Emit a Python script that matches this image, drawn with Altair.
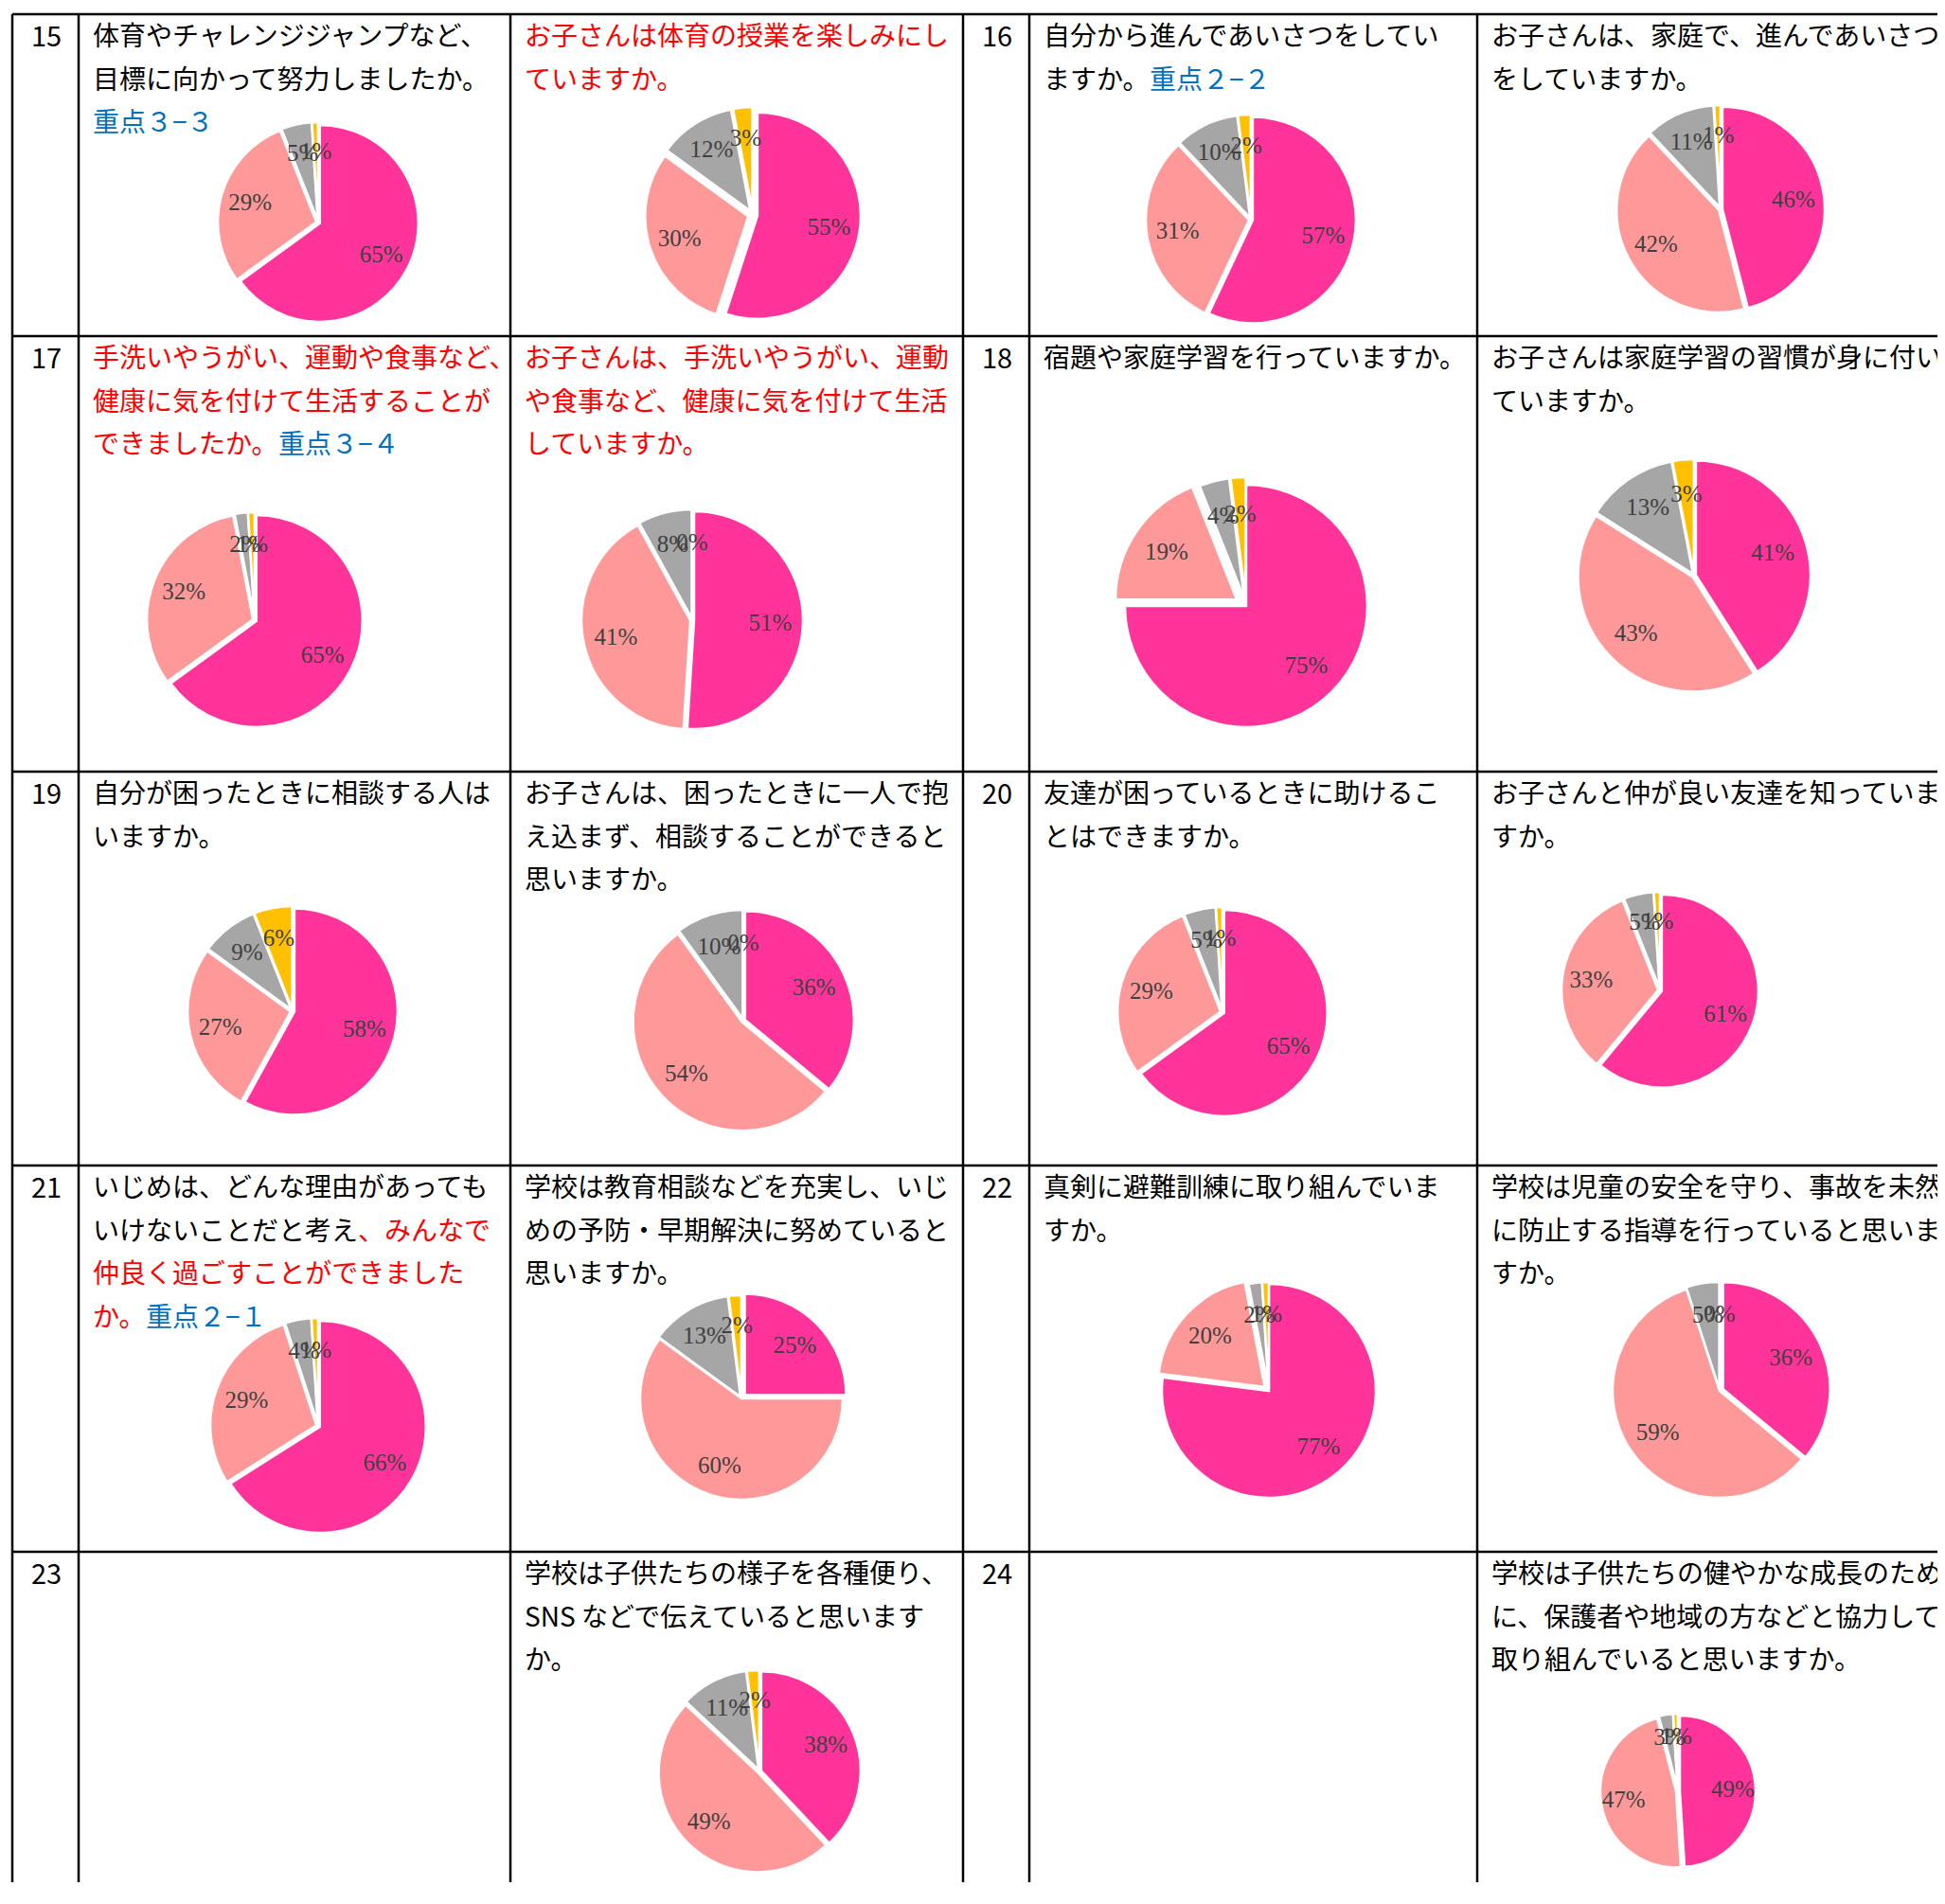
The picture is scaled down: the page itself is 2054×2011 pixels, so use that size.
import altair as alt
import pandas as pd

# ---------------- data ----------------
numbers = ["15", "16", "17", "18", "19", "20", "21", "22", "23", "24"]

pie_ids = ["15s", "15p", "16s", "16p", "17s", "17p", "18s", "18p", "19s", "19p",
           "20s", "20p", "21s", "21p", "22s", "22p", "23p", "24p"]
answer_cats = ["4", "3", "2", "1"]
pink   = [65, 55, 57, 46, 65, 51, 75, 41, 58, 36, 65, 61, 66, 25, 77, 36, 38, 49]
salmon = [29, 30, 31, 42, 32, 41, 19, 43, 27, 54, 29, 33, 29, 60, 20, 59, 49, 47]
grey   = [5, 12, 10, 11, 2, 8, 4, 13, 9, 10, 5, 5, 4, 13, 2, 5, 11, 3]
yellow = [1, 3, 2, 1, 1, 0, 2, 3, 6, 0, 1, 1, 1, 2, 1, 0, 2, 1]

# question texts: cell id -> lines -> segments (text, kind)
texts = {
    "15s": [[("体育やチャレンジジャンプなど、", "q")],
            [("目標に向かって努力しましたか。", "q")],
            [("重点３−３", "b")]],
    "15p": [[("お子さんは体育の授業を楽しみにし", "r")],
            [("ていますか。", "r")]],
    "16s": [[("自分から進んであいさつをしてい", "q")],
            [("ますか。", "q"), ("重点２−２", "b")]],
    "16p": [[("お子さんは、家庭で、進んであいさつ", "q")],
            [("をしていますか。", "q")]],
    "17s": [[("手洗いやうがい、運動や食事など、", "r")],
            [("健康に気を付けて生活することが", "r")],
            [("できましたか。", "r"), ("重点３−４", "b")]],
    "17p": [[("お子さんは、手洗いやうがい、運動", "r")],
            [("や食事など、健康に気を付けて生活", "r")],
            [("していますか。", "r")]],
    "18s": [[("宿題や家庭学習を行っていますか。", "q")]],
    "18p": [[("お子さんは家庭学習の習慣が身に付い", "q")],
            [("ていますか。", "q")]],
    "19s": [[("自分が困ったときに相談する人は", "q")],
            [("いますか。", "q")]],
    "19p": [[("お子さんは、困ったときに一人で抱", "q")],
            [("え込まず、相談することができると", "q")],
            [("思いますか。", "q")]],
    "20s": [[("友達が困っているときに助けるこ", "q")],
            [("とはできますか。", "q")]],
    "20p": [[("お子さんと仲が良い友達を知っていま", "q")],
            [("すか。", "q")]],
    "21s": [[("いじめは、どんな理由があっても", "q")],
            [("いけないことだと考え", "q"), ("、みんなで", "r")],
            [("仲良く過ごすことができました", "r")],
            [("か。", "r"), ("重点２−１", "b")]],
    "21p": [[("学校は教育相談などを充実し、いじ", "q")],
            [("めの予防・早期解決に努めていると", "q")],
            [("思いますか。", "q")]],
    "22s": [[("真剣に避難訓練に取り組んでいま", "q")],
            [("すか。", "q")]],
    "22p": [[("学校は児童の安全を守り、事故を未然", "q")],
            [("に防止する指導を行っていると思いま", "q")],
            [("すか。", "q")]],
    "23p": [[("学校は子供たちの様子を各種便り、", "q")],
            [("SNS などで伝えていると思います", "q")],
            [("か。", "q")]],
    "24p": [[("学校は子供たちの健やかな成長のため", "q")],
            [("に、保護者や地域の方などと協力して", "q")],
            [("取り組んでいると思いますか。", "q")]],
}

# ---------------- layout (reference pixel coordinates) ----------------
W, H = 2038, 1980
OX, OY = 8, 8
COLS = [13, 83, 539, 1017, 1087, 1560]
ROWS = [15, 355, 815, 1231, 1639]
FS = 28          # question font size (= char advance)
LINE = 45.5
PAD = 15
FIRST = 25

cell_of = {}
for i, n in enumerate(numbers):
    row = i // 2
    side = i % 2
    cs, cp = (1, 2) if side == 0 else (4, 5)
    cell_of[n + "s"] = (row, cs)
    cell_of[n + "p"] = (row, cp)

pie_layout = {  # cx, cy, r
    "15s": (336, 235, 104), "15p": (795, 227, 109), "16s": (1321, 232, 109),
    "16p": (1817, 221, 108), "17s": (269, 655, 112), "17p": (731, 655, 115),
    "18s": (1316, 640, 128), "18p": (1789, 608, 121), "19s": (309, 1068, 109),
    "19p": (785, 1078, 115), "20s": (1291, 1069, 109), "20p": (1753, 1046, 102),
    "21s": (336, 1506, 112), "21p": (783, 1477, 107), "22s": (1340, 1469, 113),
    "22p": (1816, 1469, 113), "23p": (802, 1871, 105), "24p": (1772, 1892, 80),
}
explode = {
    "15p": [5, 5, 5, 5], "18s": [0, 12, 8, 8], "21p": [5, 0, 2, 2],
    "22s": [0, 6, 2, 2], "22p": [4, 0, 2, 2],
}
LABEL_R = 0.7

# ---------------- tables ----------------
rows = []
for k, pid in enumerate(pie_ids):
    vals = [pink[k], salmon[k], grey[k], yellow[k]]
    cx, cy, r = pie_layout[pid]
    ex = explode.get(pid, [2, 2, 2, 2])
    for j, (c, v) in enumerate(zip(answer_cats, vals)):
        rows.append({"pie": pid, "order": j, "cat": c, "value": v,
                     "cx": cx, "cy": cy, "r": r, "ex": ex[j]})
pie_df = pd.DataFrame(rows)

trows = []
for cid, lines in texts.items():
    row, col = cell_of[cid]
    for li, segs in enumerate(lines):
        off = 0
        for s, kind in segs:
            trows.append({"x": COLS[col] + PAD + off * FS,
                          "y": ROWS[row] + FIRST + li * LINE,
                          "text": s, "kind": kind})
            off += len(s)
text_df = pd.DataFrame(trows)

nrows = []
for i, n in enumerate(numbers):
    row = i // 2
    c0 = 0 if i % 2 == 0 else 3
    nrows.append({"x": (COLS[c0] + COLS[c0 + 1]) / 2 + 1, "y": ROWS[row] + FIRST, "text": n})
num_df = pd.DataFrame(nrows)

grid = []
for yv in ROWS:
    grid.append({"x": COLS[0], "x2": 2100, "y": yv, "y2": yv})
for xv in COLS:
    grid.append({"x": xv, "x2": xv, "y": ROWS[0], "y2": 2100})
grid_df = pd.DataFrame(grid)

# ---------------- scales ----------------
xs = alt.Scale(domain=[OX, OX + W], range=[0, W], zero=False, nice=False)
ys = alt.Scale(domain=[OY, OY + H], range=[0, H], zero=False, nice=False)
ts = alt.Scale(domain=[0, 100], range=[0, 6.283185307179586])
rs = alt.Scale(type="linear", domain=[0, 200], range=[0, 200], zero=True)

rules = alt.Chart(grid_df).mark_rule(color="black", strokeWidth=2.5, clip=True).encode(
    x=alt.X("x:Q", scale=xs, axis=None), x2="x2:Q",
    y=alt.Y("y:Q", scale=ys, axis=None), y2="y2:Q")

pie_base = alt.Chart(pie_df).transform_joinaggregate(
    total="sum(value)", groupby=["pie"]
).transform_window(
    cum="sum(value)", groupby=["pie"], sort=[alt.SortField("order")]
).transform_calculate(
    t1="datum.cum / datum.total * 100",
    t0="(datum.cum - datum.value) / datum.total * 100",
).transform_calculate(
    mid="(datum.t0 + datum.t1) / 2 * 2 * PI / 100"
).transform_calculate(
    sx="datum.cx + datum.ex * sin(datum.mid)",
    sy="datum.cy - datum.ex * cos(datum.mid)",
).transform_calculate(
    lx=f"datum.sx + {LABEL_R} * datum.r * sin(datum.mid)",
    ly=f"datum.sy - {LABEL_R} * datum.r * cos(datum.mid)",
    label="datum.value + '%'",
)

arcs = pie_base.mark_arc(stroke="white", strokeWidth=2.5).encode(
    x=alt.X("sx:Q", scale=xs, axis=None),
    y=alt.Y("sy:Q", scale=ys, axis=None),
    theta=alt.Theta("t0:Q", scale=ts, stack=None),
    theta2="t1:Q",
    radius=alt.Radius("r:Q", scale=rs),
    color=alt.Color("cat:N", scale=alt.Scale(domain=answer_cats,
                    range=["#FF3399", "#FF9999", "#A6A6A6", "#FFC000"]), legend=None),
)

labels = pie_base.mark_text(font="Liberation Serif", fontSize=25, color="#404040",
                            align="center", baseline="middle").encode(
    x=alt.X("lx:Q", scale=xs, axis=None),
    y=alt.Y("ly:Q", scale=ys, axis=None),
    text="label:N",
)

qtext = alt.Chart(text_df).mark_text(font="Noto Sans CJK JP", fontSize=FS, align="left",
                                     baseline="middle", clip=True).encode(
    x=alt.X("x:Q", scale=xs, axis=None),
    y=alt.Y("y:Q", scale=ys, axis=None),
    text="text:N",
    color=alt.Color("kind:N", scale=alt.Scale(domain=["q", "r", "b"],
                    range=["#000000", "#FF0000", "#0070C0"]), legend=None),
)

nums = alt.Chart(num_df).mark_text(font="Noto Sans CJK JP", fontSize=29, align="center",
                                   baseline="middle", color="#000000").encode(
    x=alt.X("x:Q", scale=xs, axis=None),
    y=alt.Y("y:Q", scale=ys, axis=None),
    text="text:N",
)

chart = alt.layer(arcs, labels, rules, qtext, nums).resolve_scale(
    color="independent"
).properties(
    width=W, height=H, padding=0, autosize=alt.AutoSizeParams(type="none"),
    background="white",
).configure_view(stroke=None)

chart.save("out.html", embed_options={"renderer": "svg", "actions": False})
